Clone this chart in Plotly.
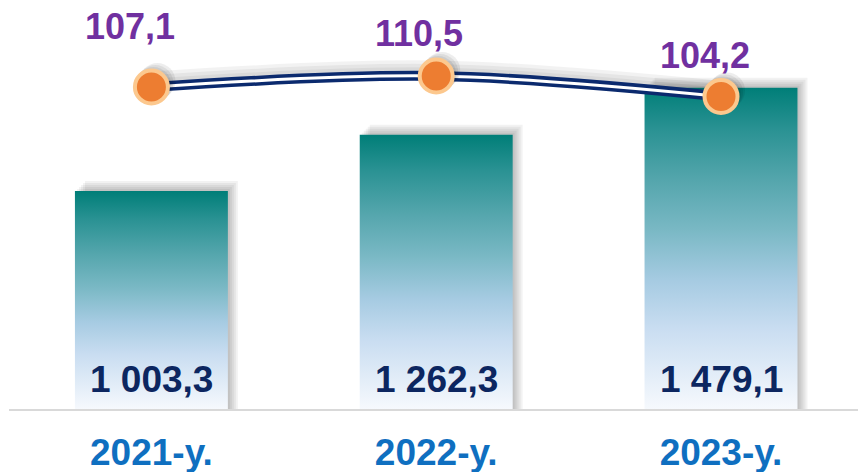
import plotly.graph_objects as go

# ---- data ----
years = ["2021-y.", "2022-y.", "2023-y."]
volume = [1003.3, 1262.3, 1479.1]
volume_labels = ["1 003,3", "1 262,3", "1 479,1"]
growth = [107.1, 110.5, 104.2]
growth_labels = ["107,1", "110,5", "104,2"]

# ---- style ----
FONT = "Liberation Sans, Arial, sans-serif"
BAR_W = 0.537
PX_X = 1 / 284.75      # data units per px (x)
PX_Y = 1 / 0.2172      # data units per px (y, primary)
PX_Y2 = 1 / 3.235      # data units per px (y2)
grad = [[0.0, "#f6f9fd"], [0.25, "#c9ddf1"], [0.40, "#a6cbe2"], [0.56, "#79b8c4"],
        [0.71, "#55a6ad"], [0.87, "#2a9293"], [1.0, "#007e78"]]
lbl_dx = [-21, -17, -16]
lbl_dy = [61, 43, 41]

fig = go.Figure()

# bar shadows
for i, v in enumerate(volume):
    for k in range(1, 6):
        off = 2 * k
        x0 = i - BAR_W / 2 + off * PX_X
        x1 = i + BAR_W / 2 + off * PX_X
        top = v + off * PX_Y
        fig.add_trace(go.Scatter(
            x=[x0, x1, x1, x0, x0], y=[0, 0, top, top, 0], mode="lines",
            fill="toself", fillcolor="rgba(0,0,0,0.05)", line=dict(width=0),
            hoverinfo="skip", showlegend=False))

# gradient bars
for i, v in enumerate(volume):
    x0 = i - BAR_W / 2
    x1 = i + BAR_W / 2
    fig.add_trace(go.Scatter(
        x=[x0, x1, x1, x0, x0], y=[0, 0, v, v, 0], mode="lines",
        fill="toself", line=dict(width=0),
        fillgradient=dict(type="vertical", colorscale=grad, start=0, stop=v),
        name=years[i], hoverinfo="skip", showlegend=False))

# line shadow
for k in range(1, 4):
    fig.add_trace(go.Scatter(
        x=[0, 1, 2], y=[g + 2 * k * PX_Y2 for g in growth], yaxis="y2",
        mode="lines", line=dict(color="rgba(0,0,0,0.05)", width=10 + 3 * k, shape="spline"),
        hoverinfo="skip", showlegend=False))

# double line
fig.add_trace(go.Scatter(x=[0, 1, 2], y=growth, yaxis="y2", mode="lines",
                         line=dict(color="#0b2a6e", width=10, shape="spline"),
                         hoverinfo="skip", showlegend=False))
fig.add_trace(go.Scatter(x=[0, 1, 2], y=growth, yaxis="y2", mode="lines",
                         line=dict(color="#ffffff", width=3, shape="spline"),
                         hoverinfo="skip", showlegend=False))
# marker shadow
for k in range(1, 4):
    fig.add_trace(go.Scatter(x=[g + 2 * k * PX_X for g in [0, 1, 2]],
                             y=[g + 2 * k * PX_Y2 for g in growth],
                             yaxis="y2", mode="markers",
                             marker=dict(size=36, color="rgba(0,0,0,0.07)", line=dict(width=0)),
                             hoverinfo="skip", showlegend=False))
fig.add_trace(go.Scatter(x=[0, 1, 2], y=growth, yaxis="y2", mode="markers",
                         marker=dict(size=33, color="#ed7d31", line=dict(color="#fcc88e", width=4)),
                         showlegend=False))

annotations = []
for i, v in enumerate(volume):
    annotations.append(dict(x=i, y=0, xref="x", yref="y", text=volume_labels[i],
                            showarrow=False, yanchor="middle", yshift=30,
                            font=dict(family=FONT, size=37, color="#0c2660", weight="bold")))
for i, g in enumerate(growth):
    annotations.append(dict(x=i, y=g, xref="x", yref="y2", text=growth_labels[i],
                            showarrow=False, yanchor="middle", xshift=lbl_dx[i], yshift=lbl_dy[i],
                            font=dict(family=FONT, size=36, color="#7030a0", weight="bold")))

fig.update_layout(
    width=858, height=472,
    margin=dict(l=9, r=0, t=0, b=63, autoexpand=False),
    paper_bgcolor="white", plot_bgcolor="white",
    xaxis=dict(range=[-0.5, 2.481], tickvals=[0, 1, 2], ticktext=years,
               showgrid=False, zeroline=False, showline=True, linecolor="#d9d9d9", linewidth=2,
               ticks="", ticklabelstandoff=10, automargin=False,
               tickfont=dict(family=FONT, size=37, color="#0f6fc0", weight="bold")),
    yaxis=dict(range=[0, 1883], visible=False),
    yaxis2=dict(range=[7.6, 134.0], overlaying="y", visible=False),
    annotations=annotations,
    showlegend=False,
)

fig.write_html("out.html", config={"displayModeBar": False},
               post_script="document.body.style.margin='0';document.body.style.overflow='hidden';")
